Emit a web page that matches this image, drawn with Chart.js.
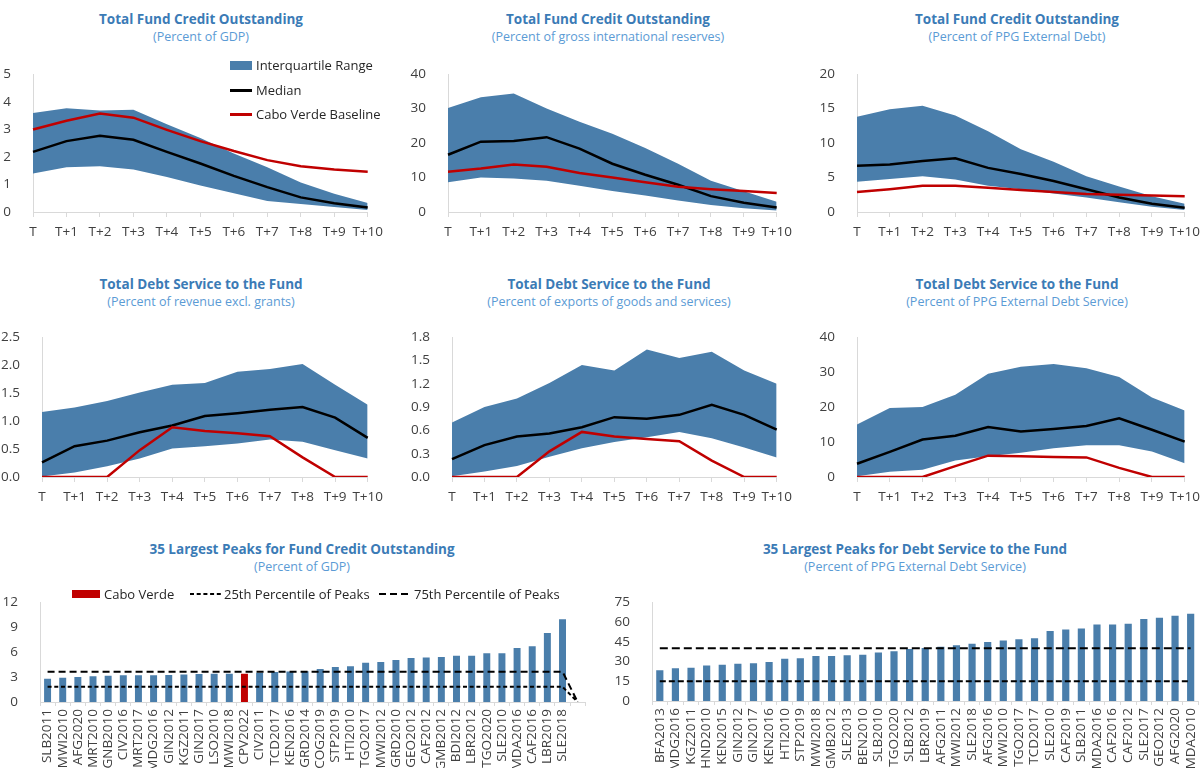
<!DOCTYPE html>
<html lang="en">
<head>
  <meta charset="UTF-8">
  <title>Fund credit outstanding and debt service to the Fund</title>
  <script src="https://cdn.jsdelivr.net/npm/chart.js"></script>
  <style>
    html, body { margin: 0; padding: 0; background: #fff; width: 1202px; height: 768px; overflow: hidden; }
    body { position: relative; font-family: "Open Sans", "Noto Sans", sans-serif; }
    canvas { position: absolute; }
    .title { position: absolute; transform: translateX(-50%); white-space: nowrap; text-align: center; }
    .title b { display: block; color: #3b7bb6; font-size: 13.5px; font-weight: 700; line-height: 18px; }
    .title span { display: block; color: #5b9bd5; font-size: 12.5px; line-height: 18px; }
    .lg { position: absolute; font-size: 13px; line-height: 18px; color: #262626; white-space: nowrap; }
    .sw { position: absolute; }
  </style>
</head>
<body>

  <div class="title" style="left:201px; top:10px"><b>Total Fund Credit Outstanding</b><span>(Percent of GDP)</span></div>
  <div class="title" style="left:608px; top:10px"><b>Total Fund Credit Outstanding</b><span>(Percent of gross international reserves)</span></div>
  <div class="title" style="left:1017px; top:10px"><b>Total Fund Credit Outstanding</b><span>(Percent of PPG External Debt)</span></div>
  <div class="title" style="left:201px; top:275px"><b>Total Debt Service to the Fund</b><span>(Percent of revenue excl. grants)</span></div>
  <div class="title" style="left:609px; top:275px"><b>Total Debt Service to the Fund</b><span>(Percent of exports of goods and services)</span></div>
  <div class="title" style="left:1017px; top:275px"><b>Total Debt Service to the Fund</b><span>(Percent of PPG External Debt Service)</span></div>
  <div class="title" style="left:302px; top:540px"><b>35 Largest Peaks for Fund Credit Outstanding</b><span>(Percent of GDP)</span></div>
  <div class="title" style="left:915px; top:540px"><b>35 Largest Peaks for Debt Service to the Fund</b><span>(Percent of PPG External Debt Service)</span></div>

  <canvas id="chart0"></canvas>
  <canvas id="chart1"></canvas>
  <canvas id="chart2"></canvas>
  <canvas id="chart3"></canvas>
  <canvas id="chart4"></canvas>
  <canvas id="chart5"></canvas>
  <canvas id="chart6"></canvas>
  <canvas id="chart7"></canvas>

  <!-- legend of the first panel -->
  <div class="sw" style="left:230px; top:61px; width:22px; height:9px; background:#4a7eab"></div>
  <div class="lg" style="left:256px; top:56px">Interquartile Range</div>
  <div class="sw" style="left:230px; top:89px; width:22px; height:3px; background:#000"></div>
  <div class="lg" style="left:256px; top:81px">Median</div>
  <div class="sw" style="left:230px; top:113px; width:22px; height:3px; background:#c00000"></div>
  <div class="lg" style="left:256px; top:105px">Cabo Verde Baseline</div>

  <!-- legend of the peaks panel -->
  <div class="sw" style="left:72px; top:590px; width:28px; height:8px; background:#c00000"></div>
  <div class="lg" style="left:104px; top:585px">Cabo Verde</div>
  <svg class="sw" style="left:190px; top:592px" width="33" height="4"><line x1="0" y1="2" x2="33" y2="2" stroke="#000" stroke-width="2" stroke-dasharray="4 2.7"/></svg>
  <div class="lg" style="left:224px; top:585px">25th Percentile of Peaks</div>
  <svg class="sw" style="left:379px; top:592px" width="33" height="4"><line x1="0" y1="2" x2="33" y2="2" stroke="#000" stroke-width="2" stroke-dasharray="7 4"/></svg>
  <div class="lg" style="left:414px; top:585px">75th Percentile of Peaks</div>

  <script>
    const periods = ["T", "T+1", "T+2", "T+3", "T+4", "T+5", "T+6", "T+7", "T+8", "T+9", "T+10"]

    /* Fund credit outstanding, percent of GDP */
    const gdpP75 = [3.59, 3.76, 3.68, 3.71, 3.18, 2.68, 2.12, 1.62, 1.07, 0.66, 0.33]
    const gdpP25 = [1.40, 1.62, 1.66, 1.54, 1.27, 0.96, 0.68, 0.40, 0.29, 0.18, 0.07]
    const gdpMedian = [2.18, 2.57, 2.76, 2.62, 2.18, 1.76, 1.31, 0.90, 0.53, 0.32, 0.16]
    const gdpCabo = [2.99, 3.31, 3.57, 3.42, 2.98, 2.57, 2.21, 1.88, 1.66, 1.54, 1.46]

    /* Fund credit outstanding, percent of gross international reserves */
    const resP75 = [30.2, 33.3, 34.4, 30.0, 26.2, 22.7, 18.6, 14.0, 9.1, 6.0, 3.0]
    const resP25 = [8.6, 10.0, 9.7, 9.1, 7.6, 6.1, 4.8, 3.3, 2.0, 1.1, 0.4]
    const resMedian = [16.6, 20.4, 20.6, 21.7, 18.4, 14.0, 10.8, 7.9, 4.6, 2.7, 1.3]
    const resCabo = [11.7, 12.6, 13.8, 13.1, 11.3, 10.0, 8.6, 7.3, 6.6, 6.1, 5.5]

    /* Fund credit outstanding, percent of PPG external debt */
    const debtP75 = [13.8, 14.9, 15.4, 14.0, 11.7, 9.1, 7.3, 5.2, 3.7, 2.3, 1.2]
    const debtP25 = [4.4, 4.8, 5.2, 4.7, 3.8, 3.3, 2.7, 2.1, 1.4, 0.75, 0.3]
    const debtMedian = [6.7, 6.9, 7.4, 7.8, 6.4, 5.5, 4.5, 3.3, 2.1, 1.2, 0.6]
    const debtCabo = [2.9, 3.3, 3.8, 3.8, 3.5, 3.2, 2.9, 2.6, 2.5, 2.4, 2.3]

    /* Debt service to the Fund, percent of revenue excl. grants */
    const revP75 = [1.16, 1.24, 1.36, 1.51, 1.65, 1.68, 1.88, 1.93, 2.02, 1.65, 1.29]
    const revP25 = [0.01, 0.08, 0.19, 0.33, 0.51, 0.55, 0.60, 0.67, 0.63, 0.48, 0.33]
    const revMedian = [0.26, 0.55, 0.65, 0.80, 0.92, 1.09, 1.14, 1.20, 1.25, 1.06, 0.70]
    const revCabo = [0, 0, 0, 0.48, 0.89, 0.82, 0.78, 0.73, 0.35, 0, 0]

    /* Debt service to the Fund, percent of exports of goods and services */
    const expP75 = [0.70, 0.90, 1.01, 1.21, 1.44, 1.37, 1.64, 1.53, 1.61, 1.37, 1.20]
    const expP25 = [0.01, 0.07, 0.14, 0.26, 0.37, 0.45, 0.51, 0.58, 0.50, 0.38, 0.25]
    const expMedian = [0.23, 0.41, 0.52, 0.56, 0.64, 0.77, 0.75, 0.80, 0.93, 0.80, 0.61]
    const expCabo = [0, 0, 0, 0.33, 0.58, 0.52, 0.49, 0.46, 0.21, 0, 0]

    /* Debt service to the Fund, percent of PPG external debt service */
    const dsP75 = [15.0, 19.7, 20.0, 23.5, 29.5, 31.5, 32.3, 31.1, 28.6, 22.7, 19.0]
    const dsP25 = [0.2, 1.5, 2.1, 4.7, 5.9, 6.9, 8.2, 9.1, 9.1, 7.3, 3.9]
    const dsMedian = [3.8, 7.2, 10.7, 11.8, 14.3, 13.0, 13.7, 14.6, 16.8, 13.5, 10.1]
    const dsCabo = [0, 0, 0, 3.1, 6.1, 5.9, 5.7, 5.6, 2.6, 0, 0]

    /* 35 largest peaks, fund credit outstanding (percent of GDP); last slot is empty */
    const gdpPeakLabels = ["SLB2011", "MWI2010", "AFG2020", "MRT2010", "GNB2010", "CIV2016", "MRT2017",
      "MDG2016", "GIN2012", "KGZ2011", "GIN2017", "LSO2010", "MWI2018", "CPV2022", "CIV2011", "TCD2017",
      "KEN2016", "GRD2014", "COG2019", "STP2019", "HTI2010", "TGO2017", "MWI2012", "GRD2010", "GEO2012",
      "CAF2012", "GMB2012", "BDI2012", "LBR2012", "TGO2020", "SLE2010", "MDA2016", "CAF2016", "LBR2019",
      "SLE2018", ""]
    const gdpPeaks = [2.8, 2.9, 3.0, 3.1, 3.15, 3.2, 3.2, 3.2, 3.25, 3.3, 3.35, 3.4, 3.4, 3.4, 3.5, 3.6,
      3.65, 3.7, 3.95, 4.2, 4.3, 4.7, 4.8, 5.05, 5.3, 5.35, 5.4, 5.55, 5.55, 5.85, 5.85, 6.5, 6.7, 8.3,
      9.95, null]
    const gdpPeaksP25 = [1.82, 1.82, 1.82, 1.82, 1.82, 1.82, 1.82, 1.82, 1.82, 1.82, 1.82, 1.82, 1.82,
      1.82, 1.82, 1.82, 1.82, 1.82, 1.82, 1.82, 1.82, 1.82, 1.82, 1.82, 1.82, 1.82, 1.82, 1.82, 1.82,
      1.82, 1.82, 1.82, 1.82, 1.82, 1.82, 0]
    const gdpPeaksP75 = [3.64, 3.64, 3.64, 3.64, 3.64, 3.64, 3.64, 3.64, 3.64, 3.64, 3.64, 3.64, 3.64,
      3.64, 3.64, 3.64, 3.64, 3.64, 3.64, 3.64, 3.64, 3.64, 3.64, 3.64, 3.64, 3.64, 3.64, 3.64, 3.64,
      3.64, 3.64, 3.64, 3.64, 3.64, 3.64, 0]

    /* 35 largest peaks, debt service to the Fund (percent of PPG external debt service) */
    const dsPeakLabels = ["BFA2013", "MDG2016", "KGZ2011", "HND2010", "KEN2015", "GIN2012", "GIN2017",
      "KEN2016", "HTI2010", "STP2019", "MWI2018", "GMB2012", "SLE2013", "BEN2010", "SLB2010", "TGO2020",
      "SLB2012", "LBR2019", "AFG2011", "MWI2012", "SLE2018", "AFG2016", "MWI2010", "TGO2017", "TCD2017",
      "SLE2010", "CAF2019", "SLB2011", "MDA2016", "CAF2016", "CAF2012", "SLE2017", "GEO2012", "AFG2020",
      "MDA2010"]
    const dsPeaks = [23.4, 24.8, 25.2, 27.0, 27.5, 28.2, 28.6, 29.5, 32.0, 32.4, 34.2, 34.2, 34.7, 35.1,
      36.7, 37.8, 39.4, 40.1, 41.2, 42.3, 43.4, 44.8, 45.9, 46.8, 47.5, 53.1, 54.2, 54.9, 58.1, 58.1,
      58.6, 62.2, 63.1, 64.6, 66.2]
    const dsPeaksP25 = [15, 15, 15, 15, 15, 15, 15, 15, 15, 15, 15, 15, 15, 15, 15, 15, 15, 15, 15, 15,
      15, 15, 15, 15, 15, 15, 15, 15, 15, 15, 15, 15, 15, 15, 15]
    const dsPeaksP75 = [40, 40, 40, 40, 40, 40, 40, 40, 40, 40, 40, 40, 40, 40, 40, 40, 40, 40, 40, 40,
      40, 40, 40, 40, 40, 40, 40, 40, 40, 40, 40, 40, 40, 40, 40]


    const red = "#c00000"
    const blue = "#4a7eab"
    const axisGray = "#d9d9d9"
    const tickFont = { family: "'Open Sans', 'Noto Sans', sans-serif", size: 13.5 }
    const tickColor = "#404040"

    /* Put a canvas so that its plot area lands on the given box. */
    const placeCanvas = (id, box) => {
      const canvas = document.getElementById(id)
      const left = box.l - box.yW
      const top = box.t - box.padTop
      const width = box.r + box.padR - left
      const height = box.b + box.xH - top
      canvas.style.left = left + "px"
      canvas.style.top = top + "px"
      canvas.width = width
      canvas.height = height
      return canvas
    }

    const yScale = (box, min, max, step, decimals) => ({
      min: min,
      max: max,
      grid: { display: false },
      border: { display: true, color: axisGray },
      ticks: {
        stepSize: step,
        padding: 14,
        color: tickColor,
        font: tickFont,
        callback: v => v.toFixed(decimals)
      },
      afterFit: s => { s.width = box.yW }
    })

    const lineChart = (id, box, min, max, step, decimals, p75, p25, median, cabo) => {
      const canvas = placeCanvas(id, box)
      new Chart(canvas, {
        type: "line",
        data: {
          labels: periods,
          datasets: [
            { data: cabo, borderColor: red, borderWidth: 2.5, pointRadius: 0, fill: false },
            { data: median, borderColor: "#000", borderWidth: 2.5, pointRadius: 0, fill: false },
            { data: p75, borderColor: "rgba(0,0,0,0)", borderWidth: 0, backgroundColor: blue, fill: "+1", pointRadius: 0 },
            { data: p25, borderColor: "rgba(0,0,0,0)", borderWidth: 0, pointRadius: 0, fill: false },
          ]
        },
        options: {
          responsive: false,
          animation: false,
          layout: { padding: { top: box.padTop, right: box.padR, left: 0, bottom: 0 } },
          plugins: { legend: { display: false }, tooltip: { enabled: false } },
          scales: {
            x: {
              offset: false,
              grid: { display: true, drawOnChartArea: false, drawTicks: true, tickLength: 5, color: axisGray },
              border: { color: axisGray },
              ticks: { padding: 7, color: tickColor, font: tickFont, maxRotation: 0, autoSkip: false },
              afterFit: s => { s.height = box.xH }
            },
            y: yScale(box, min, max, step, decimals)
          }
        }
      })
    }

    const barChart = (id, box, min, max, step, labels, values, p25, p75, dash25, dash75) => {
      const canvas = placeCanvas(id, box)
      new Chart(canvas, {
        type: "bar",
        data: {
          labels: labels,
          datasets: [
            { type: "line", data: p75, borderColor: "#000", borderWidth: 2, borderDash: dash75, pointRadius: 0, fill: false },
            { type: "line", data: p25, borderColor: "#000", borderWidth: 2, borderDash: dash25, pointRadius: 0, fill: false },
            {
              data: values,
              backgroundColor: labels.map(l => l === "CPV2022" ? red : blue),
              barPercentage: 0.46,
              categoryPercentage: 1
            }
          ]
        },
        options: {
          responsive: false,
          animation: false,
          layout: { padding: { top: box.padTop, right: box.padR, left: 0, bottom: 0 } },
          plugins: { legend: { display: false }, tooltip: { enabled: false } },
          scales: {
            x: {
              grid: { display: true, drawOnChartArea: false, drawTicks: true, tickLength: 4, color: axisGray },
              border: { color: axisGray },
              ticks: { padding: 3, color: tickColor, font: tickFont, minRotation: 90, maxRotation: 90, autoSkip: false },
              afterFit: s => { s.height = box.xH }
            },
            y: yScale(box, min, max, step, 0)
          }
        }
      })
    }

    lineChart("chart0", { l: 33, r: 368, t: 62, b: 212, yW: 33, padTop: 10, padR: 22, xH: 30 },
      0, 5, 1, 0, gdpP75, gdpP25, gdpMedian, gdpCabo)
    lineChart("chart1", { l: 448, r: 777, t: 62, b: 212, yW: 40, padTop: 10, padR: 22, xH: 30 },
      0, 40, 10, 0, resP75, resP25, resMedian, resCabo)
    lineChart("chart2", { l: 857, r: 1185, t: 62, b: 212, yW: 40, padTop: 10, padR: 22, xH: 30 },
      0, 20, 5, 0, debtP75, debtP25, debtMedian, debtCabo)
    lineChart("chart3", { l: 42, r: 368, t: 325, b: 477, yW: 42, padTop: 10, padR: 22, xH: 30 },
      0, 2.5, 0.5, 1, revP75, revP25, revMedian, revCabo)
    lineChart("chart4", { l: 452, r: 777, t: 325, b: 477, yW: 44, padTop: 10, padR: 22, xH: 30 },
      0, 1.8, 0.3, 1, expP75, expP25, expMedian, expCabo)
    lineChart("chart5", { l: 857, r: 1185, t: 325, b: 477, yW: 40, padTop: 10, padR: 22, xH: 30 },
      0, 40, 10, 0, dsP75, dsP25, dsMedian, dsCabo)

    barChart("chart6", { l: 40, r: 587, t: 590, b: 702, yW: 40, padTop: 10, padR: 10, xH: 72 },
      0, 12, 3, gdpPeakLabels, gdpPeaks, gdpPeaksP25, gdpPeaksP75, [4, 2.7], [7, 4])
    barChart("chart7", { l: 652, r: 1200, t: 590, b: 701, yW: 44, padTop: 10, padR: 10, xH: 72 },
      0, 75, 15, dsPeakLabels, dsPeaks, dsPeaksP25, dsPeaksP75, [6, 3], [8, 4])
  </script>

</body>
</html>
